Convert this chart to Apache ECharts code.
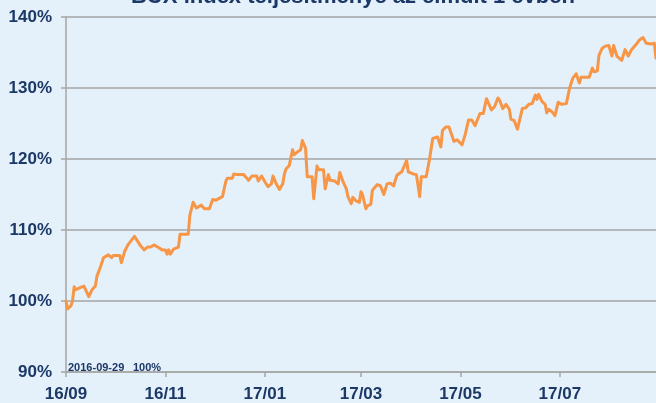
<!DOCTYPE html>
<html>
<head>
<meta charset="utf-8">
<script src="https://cdn.jsdelivr.net/npm/echarts@6/dist/echarts.min.js"></script>
<style>
html,body{margin:0;padding:0;background:#e4f0fa;}
#c{width:656px;height:403px;}
</style>
</head>
<body>
<div id="c"></div>
<script>
const titleText = 'BUX index teljesítménye az elmúlt 1 évben';
const startNote = '2016-09-29';
const startValueNote = '100%';

const dates = [
'2016-09-29','2016-09-30','2016-10-02','2016-10-03','2016-10-04','2016-10-05','2016-10-07','2016-10-10','2016-10-11','2016-10-13',
'2016-10-15','2016-10-17','2016-10-18','2016-10-20','2016-10-21','2016-10-22','2016-10-25','2016-10-26','2016-10-27','2016-10-28',
'2016-10-30','2016-11-01','2016-11-02','2016-11-04','2016-11-06','2016-11-08','2016-11-09','2016-11-10','2016-11-12','2016-11-14',
'2016-11-16','2016-11-18','2016-11-20','2016-11-22','2016-11-25','2016-11-27','2016-11-29','2016-11-30','2016-12-01','2016-12-02',
'2016-12-04','2016-12-07','2016-12-08','2016-12-13','2016-12-14','2016-12-16','2016-12-18','2016-12-21','2016-12-23','2016-12-26',
'2016-12-28','2016-12-30','2017-01-03','2017-01-05','2017-01-06','2017-01-09','2017-01-10','2017-01-12','2017-01-16','2017-01-18',
'2017-01-19','2017-01-21','2017-01-24','2017-01-25','2017-01-27','2017-01-29','2017-01-31','2017-02-02','2017-02-03','2017-02-05',
'2017-02-07','2017-02-09','2017-02-10','2017-02-11','2017-02-13','2017-02-15','2017-02-16','2017-02-18','2017-02-20','2017-02-21',
'2017-02-23','2017-02-24','2017-02-27','2017-02-28','2017-03-02','2017-03-03','2017-03-06','2017-03-07','2017-03-09','2017-03-10',
'2017-03-13','2017-03-15','2017-03-16','2017-03-18','2017-03-20','2017-03-21','2017-03-23','2017-03-24','2017-03-26','2017-03-28',
'2017-03-29','2017-03-30','2017-04-01','2017-04-02','2017-04-04','2017-04-05','2017-04-08','2017-04-10','2017-04-12','2017-04-14',
'2017-04-16','2017-04-18','2017-04-20','2017-04-21','2017-04-23','2017-04-24','2017-04-26','2017-04-27','2017-04-30','2017-05-02',
'2017-05-04','2017-05-05','2017-05-08','2017-05-10','2017-05-12','2017-05-15','2017-05-17','2017-05-18','2017-05-20','2017-05-22',
'2017-05-25','2017-05-27','2017-05-30','2017-06-01','2017-06-03','2017-06-05','2017-06-07','2017-06-10','2017-06-12','2017-06-14',
'2017-06-15','2017-06-17','2017-06-19','2017-06-21','2017-06-22','2017-06-24','2017-06-26','2017-06-28','2017-06-29','2017-07-01',
'2017-07-03','2017-07-06','2017-07-08','2017-07-10','2017-07-12','2017-07-14','2017-07-15','2017-07-16','2017-07-18','2017-07-20',
'2017-07-21','2017-07-22','2017-07-24','2017-07-26','2017-07-28','2017-07-30','2017-08-02','2017-08-04','2017-08-06','2017-08-08',
'2017-08-10','2017-08-11','2017-08-16','2017-08-18','2017-08-19','2017-08-21','2017-08-22','2017-08-24','2017-08-26','2017-08-28',
'2017-08-30','2017-08-31','2017-09-02','2017-09-05','2017-09-07','2017-09-09','2017-09-11','2017-09-14','2017-09-16','2017-09-18',
'2017-09-20','2017-09-23','2017-09-25','2017-09-26'
];

const values = [
100.0, 98.9, 99.3,100.0,102.0,101.6,101.8,102.1,101.6,100.6,
101.6,102.1,103.5,104.7,105.4,106.1,106.5,106.6,106.1,106.4,
106.4,106.4,105.4,107.0,107.9,108.5,108.5,109.1,108.4,107.7,
107.2,107.6,107.6,107.9,107.5,107.2,107.2,106.6,107.2,106.6,
107.3,107.6,109.4,109.4,112.1,113.9,113.1,113.5,113.0,113.0,
114.3,114.2,114.7,116.8,117.3,117.3,117.9,117.8,117.8,117.3,
117.0,117.6,117.6,116.9,117.6,116.8,116.1,116.5,117.6,116.5,
115.7,116.5,117.9,118.6,119.1,121.3,120.6,121.0,121.3,122.6,
121.5,117.5,117.5,114.4,119.0,118.5,118.5,115.8,117.8,117.0,
116.9,116.5,118.1,116.8,115.8,114.7,113.7,114.6,114.1,113.9,
115.4,114.9,113.0,113.4,113.6,115.6,116.4,116.2,115.0,116.5,
116.6,116.2,117.7,117.8,118.2,118.7,119.8,118.2,117.9,117.8,
114.7,117.5,117.5,119.9,122.9,123.1,121.7,124.0,124.5,124.5,
122.5,122.7,122.0,123.5,125.5,125.5,124.7,126.4,126.4,128.5,
128.6,126.9,127.4,128.6,128.3,127.1,127.7,127.0,125.6,125.4,
124.2,127.1,127.2,127.7,127.8,129.0,128.4,129.1,128.1,127.7,
126.5,127.0,126.7,126.1,128.0,127.7,127.8,130.0,131.4,132.0,
130.7,131.5,131.5,132.8,132.3,132.4,134.6,135.6,135.9,136.0,
134.5,136.0,134.5,133.9,135.4,134.5,135.4,136.2,136.8,137.1,
136.3,136.2,136.3,134.2
];

const xTickDates = ['2016-09-29','2016-11-29','2017-01-29','2017-03-29','2017-05-29','2017-07-29'];
const xTickLabels = ['16/09','16/11','17/01','17/03','17/05','17/07'];
const xMin = '2016-09-29';
const xMax = '2017-09-26';

const yMin = 90, yMax = 140, yStep = 10;

function toTs(s){ const p = s.split('-').map(Number); return Date.UTC(p[0], p[1]-1, p[2]); }
const tickTs = xTickDates.map(toTs);
const seriesData = dates.map((d,i)=>[toTs(d), values[i]]);

const navy = '#1b3866';
const gridGrey = '#a6a6a6';
const fontFam = '"Liberation Sans", Arial, sans-serif';

const chart = echarts.init(document.getElementById('c'), null, {renderer:'canvas'});
chart.setOption({
  backgroundColor: '#e4f0fa',
  animation: false,
  grid: {left: 66, right: 0, top: 17, bottom: 28, containLabel: false},
  xAxis: {
    type: 'value',
    min: toTs(xMin),
    max: toTs(xMax),
    axisLine: {show: true, onZero: false, lineStyle: {color: gridGrey, width: 1.5}},
    axisTick: {show: true, length: 5, lineStyle: {color: gridGrey, width: 1.5}, customValues: tickTs},
    axisLabel: {
      customValues: tickTs,
      showMinLabel: true,
      color: navy, fontWeight: 'bold', fontSize: 17, fontFamily: fontFam, margin: 14,
      formatter: function(v){ const i = tickTs.indexOf(v); return i >= 0 ? xTickLabels[i] : ''; }
    },
    splitLine: {show: false}
  },
  yAxis: {
    type: 'value',
    min: yMin, max: yMax, interval: yStep,
    axisLine: {show: true, lineStyle: {color: gridGrey, width: 1.5}},
    axisTick: {show: true, length: 5, lineStyle: {color: gridGrey, width: 1.5}},
    axisLabel: {color: navy, fontWeight: 'bold', fontSize: 17, fontFamily: fontFam, margin: 14,
      formatter: '{value}%'},
    splitLine: {show: true, lineStyle: {color: gridGrey, width: 1.5}}
  },
  graphic: [
    {type: 'text', x: 353, y: -14,
      style: {text: titleText, fill: navy, font: 'bold 22px ' + fontFam, textAlign: 'center', textVerticalAlign: 'top'}},
    {type: 'text', x: 68, y: 362, style: {text: startNote, fill: navy, font: 'bold 11px ' + fontFam}},
    {type: 'text', x: 133, y: 362, style: {text: startValueNote, fill: navy, font: 'bold 11px ' + fontFam}}
  ],
  series: [{
    type: 'line',
    data: seriesData,
    showSymbol: false,
    symbol: 'none',
    lineStyle: {color: '#f79646', width: 3, join: 'round', cap: 'round'},
    itemStyle: {color: '#f79646'}
  }]
});
</script>
</body>
</html>
